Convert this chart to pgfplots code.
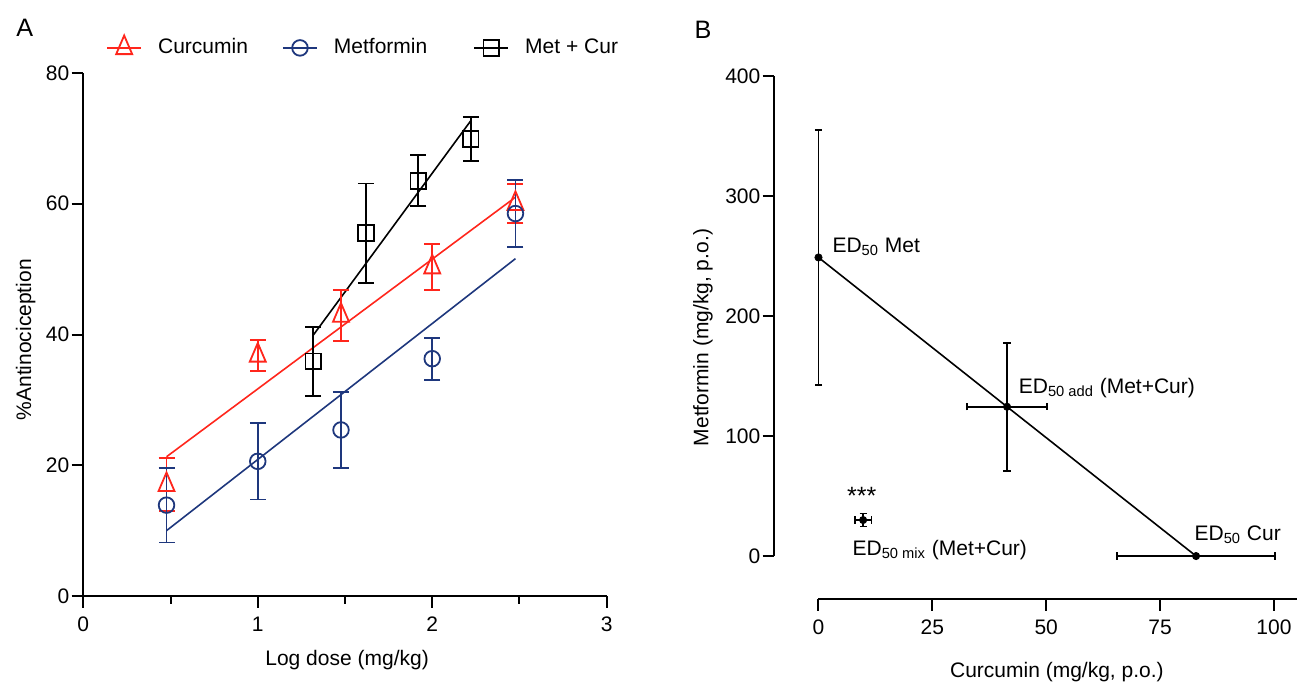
\documentclass[border=0pt]{standalone}
\usepackage{fontspec}
\setmainfont{Liberation Sans}
\usepackage{pgfplots}
\pgfplotsset{compat=1.18}
\definecolor{cred}{RGB}{255,38,28}
\definecolor{cnavy}{RGB}{30,55,125}

\pgfplotsset{
  gp/.style={
    scale only axis,
    axis lines=left,
    axis line style={-, line width=1pt},
    tick align=outside,
    major tick length=5.8pt,
    minor tick length=3.8pt,
    every tick/.style={black, line width=1pt},
    yticklabel style={inner xsep=1pt},
    xticklabel style={yshift=-1pt},
    /pgf/number format/assume math mode=true,
    clip=false,
  },
  ebar/.style={error bars/.cd, y dir=both, y explicit,
    error bar style={line width=0.9pt},
    error mark options={rotate=90, mark size=4pt, line width=0.9pt}},
}

\begin{document}
\fontsize{10.5}{12.6}\selectfont
\begin{tikzpicture}

% panel A: log dose-response
\begin{axis}[gp,
  at={(0pt,0pt)}, anchor=south west,
  width=261.7pt, height=261.5pt,
  xmin=0, xmax=3, ymin=0, ymax=80,
  xtick={0,1,2,3}, minor xtick={0.5,1.5,2.5},
  ytick={0,20,40,60,80},
  xlabel={Log dose (mg/kg)},
  ylabel={\%Antinociception},
  xlabel style={at={(axis description cs:0.504,-0.122)}, anchor=center},
  ylabel style={at={(axis description cs:-0.11,0.49)}, anchor=center},
  legend columns=3,
  legend style={draw=none, fill=none, inner sep=0pt,
    at={(axis description cs:0.043,1.048)}, anchor=west,
    /tikz/every odd column/.append style={column sep=6pt},
    /tikz/column 2/.style={column sep=15pt},
    /tikz/column 4/.style={column sep=21pt}},
]
\addlegendimage{cred, line width=0.9pt, mark=triangle, mark size=4.6pt, mark options={yscale=1.35}}
\addlegendentry{Curcumin}
\addlegendimage{cnavy, line width=0.9pt, mark=o, mark size=3.9pt}
\addlegendentry{Metformin}
\addlegendimage{black, line width=0.9pt, mark=square, mark size=3.9pt}
\addlegendentry{Met + Cur}

% regression lines
\addplot[cred, line width=0.8pt, forget plot] coordinates {(0.477,21.3) (2.477,61.0)};
\addplot[cnavy, line width=0.8pt, forget plot] coordinates {(0.477,10.0) (2.477,51.6)};
\addplot[black, line width=0.8pt, forget plot] coordinates {(1.318,39.9) (2.221,72.7)};

% curcumin
\addplot[cred, only marks, mark=triangle, mark size=4.6pt, line width=0.9pt,
  mark options={yscale=1.35}, forget plot, ebar] coordinates {
  (0.477,17.0) +- (0,4.05)
  (1.000,36.8) +- (0,2.35)
  (1.477,42.9) +- (0,3.85)
  (2.000,50.3) +- (0,3.5)
  (2.477,60.0) +- (0,3.0)
};
% metformin
\addplot[cnavy, only marks, mark=o, mark size=3.9pt, line width=0.9pt,
  forget plot, ebar] coordinates {
  (0.477,13.9) +- (0,5.7)
  (1.000,20.6) +- (0,5.85)
  (1.477,25.4) +- (0,5.8)
  (2.000,36.3) +- (0,3.2)
  (2.477,58.5) +- (0,5.1)
};
% met + cur
\addplot[black, only marks, mark=square, mark size=3.9pt, line width=0.9pt,
  forget plot, ebar] coordinates {
  (1.318,35.9) +- (0,5.3)
  (1.620,55.5) +- (0,7.6)
  (1.920,63.5) +- (0,3.9)
  (2.221,69.9) +- (0,3.4)
};
\end{axis}

% panel B: isobologram
\begin{axis}[gp,
  at={(345.5pt,-1.5pt)}, anchor=south west,
  width=261.2pt, height=261.5pt,
  xmin=-9.7, xmax=105, ymin=-35.8, ymax=400,
  axis line style={draw=none},
  xtick={0,25,50,75,100}, ytick={0,100,200,300,400},
  xlabel={Curcumin (mg/kg, p.o.)},
  ylabel={Metformin (mg/kg, p.o.)},
  xlabel style={at={(axis description cs:0.541,-0.139)}, anchor=center},
  ylabel style={at={(axis description cs:-0.1366,0.5)}, anchor=center},
]
\draw[line width=1pt] (axis cs:-9.7,0) -- (axis cs:-9.7,400);
\draw[line width=1pt] (axis cs:0,-35.8) -- (axis cs:105,-35.8);

\addplot[black, line width=0.8pt] coordinates {(0,248.8) (41.4,124.4) (82.9,0)};

\addplot[black, only marks, mark=*, mark size=1.8pt,
  error bars/.cd, y dir=both, y explicit,
  error bar style={line width=0.8pt},
  error mark options={rotate=90, mark size=1.8pt, line width=0.8pt}]
  coordinates {(0,248.8) +- (0,106.3)};
\addplot[black, only marks, mark=*, mark size=1.8pt,
  error bars/.cd, x dir=both, x explicit, y dir=both, y explicit,
  error bar style={line width=0.8pt},
  error mark options={rotate=90, mark size=1.8pt, line width=0.8pt}]
  coordinates {(41.4,124.4) +- (8.8,53.3) (9.8,30) +- (1.8,5.3)};
\addplot[black, only marks, mark=*, mark size=1.8pt,
  error bars/.cd, x dir=both, x explicit,
  error bar style={line width=0.8pt},
  error mark options={rotate=90, mark size=1.8pt, line width=0.8pt}]
  coordinates {(82.9,0) +- (17.3,0)};

\node[anchor=base west, inner sep=0pt] at (axis cs:3,252.8) {ED\textsubscript{50} Met};
\node[anchor=base west, inner sep=0pt] at (axis cs:43.9,135.6) {ED\textsubscript{50 add} (Met+Cur)};
\node[anchor=base west, inner sep=0pt] at (axis cs:82.5,13.3) {ED\textsubscript{50} Cur};
\node[anchor=base west, inner sep=0pt] at (axis cs:7.4,0.8) {ED\textsubscript{50 mix} (Met+Cur)};
\node[anchor=base, inner sep=0pt, font=\fontsize{12.5}{15}\selectfont] at (axis cs:9.5,43) {***};
\end{axis}

\node[font=\fontsize{12.6}{15}\selectfont] at (-29.3pt,284pt) {A};
\node[font=\fontsize{12.6}{15}\selectfont] at (309.9pt,283pt) {B};

\pgfresetboundingbox
\useasboundingbox (-41.65pt,-43pt) rectangle (611.35pt,298pt);
\end{tikzpicture}
\end{document}
